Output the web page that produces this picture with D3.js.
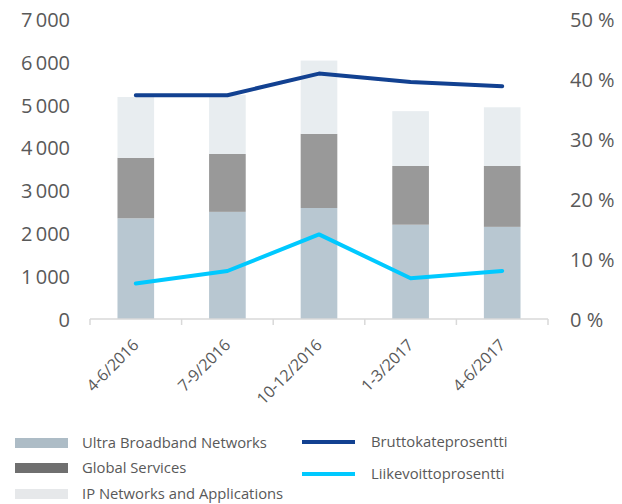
<!DOCTYPE html>
<html>
<head>
<meta charset="utf-8">
<script src="https://cdn.jsdelivr.net/npm/d3@7"></script>
<style>
  html, body { margin: 0; padding: 0; background: #ffffff; }
  svg text { font-family: "Open Sans", "Noto Sans", sans-serif; fill: #595959; }
</style>
</head>
<body>
<svg id="chart" width="622" height="504"></svg>
<script>
const categories = ["4-6/2016", "7-9/2016", "10-12/2016", "1-3/2017", "4-6/2017"];
const ultraBroadband = [2350, 2500, 2590, 2200, 2150];
const globalServices = [1410, 1350, 1730, 1370, 1420];
const ipNetworks = [1420, 1380, 1710, 1280, 1370];
const bruttokate = [37.3, 37.3, 40.9, 39.5, 38.8];
const liikevoitto = [5.9, 8.0, 14.1, 6.8, 8.0];
const leftTicks = [0, 1000, 2000, 3000, 4000, 5000, 6000, 7000];
const rightTicks = [0, 10, 20, 30, 40, 50];

const seriesNames = ["Ultra Broadband Networks", "Global Services", "IP Networks and Applications"];
const barColors = ["#b8c7d1", "#999999", "#e8edf0"];
const legendBarColors = ["#adbcc6", "#6f6f6f", "#e6e8ea"];
const lineNames = ["Bruttokateprosentti", "Liikevoittoprosentti"];
const lineColors = ["#124191", "#00c9ff"];

const svg = d3.select("#chart");
const fmt = d => d3.format(",")(d).replace(/,/g, "\u2009");

const x = d3.scaleBand().domain(categories).range([90, 548]).padding(0);
const y = d3.scaleLinear().domain([0, 7000]).range([319, 19]);
const y2 = d3.scaleLinear().domain([0, 50]).range([319, 19]);

const rows = categories.map((c, i) => ({
  cat: c,
  "Ultra Broadband Networks": ultraBroadband[i],
  "Global Services": globalServices[i],
  "IP Networks and Applications": ipNetworks[i]
}));
const stacked = d3.stack().keys(seriesNames)(rows);
const bw = x.bandwidth() * 0.4;

svg.append("g").selectAll("g").data(stacked).join("g")
  .attr("fill", (d, i) => barColors[i])
  .selectAll("rect").data(d => d).join("rect")
  .attr("x", d => x(d.data.cat) + x.bandwidth() / 2 - bw / 2)
  .attr("width", bw)
  .attr("y", d => y(d[1]))
  .attr("height", d => y(d[0]) - y(d[1]));

// x axis
const xAxis = svg.append("g").attr("transform", "translate(0,319)");
xAxis.append("line").attr("x1", 90).attr("x2", 548).attr("y1", 0).attr("y2", 0)
  .attr("stroke", "#d9d9d9").attr("stroke-width", 1.5);
const edges = categories.map(c => x(c)).concat([x.range()[1]]);
xAxis.selectAll("line.tick").data(edges).join("line").attr("class", "tick")
  .attr("x1", d => d).attr("x2", d => d).attr("y1", 0).attr("y2", 6)
  .attr("stroke", "#d9d9d9").attr("stroke-width", 1.5);
xAxis.selectAll("text").data(categories).join("text")
  .attr("transform", d => `translate(${x(d) + x.bandwidth() / 2},${23}) rotate(-45)`)
  .attr("text-anchor", "end")
  .attr("dy", "0.35em")
  .style("font-size", "16px")
  .text(d => d);

// left axis
const yAxis = d3.axisLeft(y).tickValues(leftTicks).tickFormat(fmt).tickSize(0).tickPadding(0);
const gy = svg.append("g").attr("transform", "translate(70,1)").call(yAxis);
gy.select(".domain").remove();
gy.selectAll("text").style("font-size", "20px").style("font-family", null).attr("fill", null);

// right axis
const yAxis2 = d3.axisRight(y2).tickValues(rightTicks).tickFormat(d => d + "\u00a0%").tickSize(0).tickPadding(0);
const gy2 = svg.append("g").attr("transform", "translate(570,1)").call(yAxis2);
gy2.select(".domain").remove();
gy2.selectAll("text").style("font-size", "20px").style("font-family", null).attr("fill", null);

// lines
const line = d3.line().x((d, i) => x(categories[i]) + x.bandwidth() / 2).y(d => y2(d));
[bruttokate, liikevoitto].forEach((s, k) => {
  svg.append("path").datum(s).attr("d", line)
    .attr("fill", "none").attr("stroke", lineColors[k]).attr("stroke-width", 4)
    .attr("stroke-linecap", "round").attr("stroke-linejoin", "round");
});

// legend
const legL = svg.append("g");
const legY = [443, 468, 494];
seriesNames.forEach((n, i) => {
  legL.append("rect").attr("x", 15).attr("y", legY[i] - 5).attr("width", 53).attr("height", 10)
    .attr("fill", legendBarColors[i]);
  legL.append("text").attr("x", 82).attr("y", legY[i]).attr("dy", "0.35em")
    .style("font-size", "14.8px").text(n);
});
const legLineY = [442, 474];
lineNames.forEach((n, i) => {
  svg.append("line").attr("x1", 302).attr("x2", 355).attr("y1", legLineY[i]).attr("y2", legLineY[i])
    .attr("stroke", lineColors[i]).attr("stroke-width", 4);
  svg.append("text").attr("x", 371).attr("y", legLineY[i]).attr("dy", "0.35em")
    .style("font-size", "14.8px").text(n);
});
</script>
</body>
</html>
